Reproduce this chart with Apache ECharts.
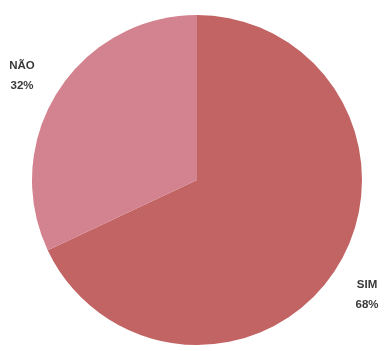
<!DOCTYPE html>
<html><head><meta charset="utf-8">
<script src="https://cdn.jsdelivr.net/npm/echarts@6/dist/echarts.min.js"></script>
<style>html,body{margin:0;padding:0;background:#fff}#c{width:387px;height:351px}</style>
</head><body><div id="c"></div>
<script>
const categories = ['SIM', 'NÃO'];
const values = [68, 32];
const colors = ['#C26463', '#D3838F'];
const labelPos = { 'SIM': [367, 295], 'NÃO': [22, 76] };

const chart = echarts.init(document.getElementById('c'), null, { renderer: 'canvas' });
chart.setOption({
  animation: false,
  backgroundColor: '#ffffff',
  series: [{
    type: 'pie',
    center: [197, 180],
    radius: [0, 165],
    startAngle: 90,
    clockwise: true,
    data: categories.map((c, i) => ({ name: c, value: values[i], itemStyle: { color: colors[i] } })),
    itemStyle: { borderWidth: 0 },
    label: {
      show: true,
      position: 'inside',
      formatter: p => p.name + '\n' + p.value + '%',
      fontFamily: 'Liberation Sans, Arial, sans-serif',
      fontWeight: 'bold',
      fontSize: 11.5,
      lineHeight: 20,
      color: '#3a3a3a',
      align: 'center',
      textBorderWidth: 0
    },
    labelLine: { show: false },
    labelLayout: params => {
      const name = categories[params.dataIndex];
      return { x: labelPos[name][0], y: labelPos[name][1], align: 'center', verticalAlign: 'middle' };
    }
  }]
});
</script></body></html>
